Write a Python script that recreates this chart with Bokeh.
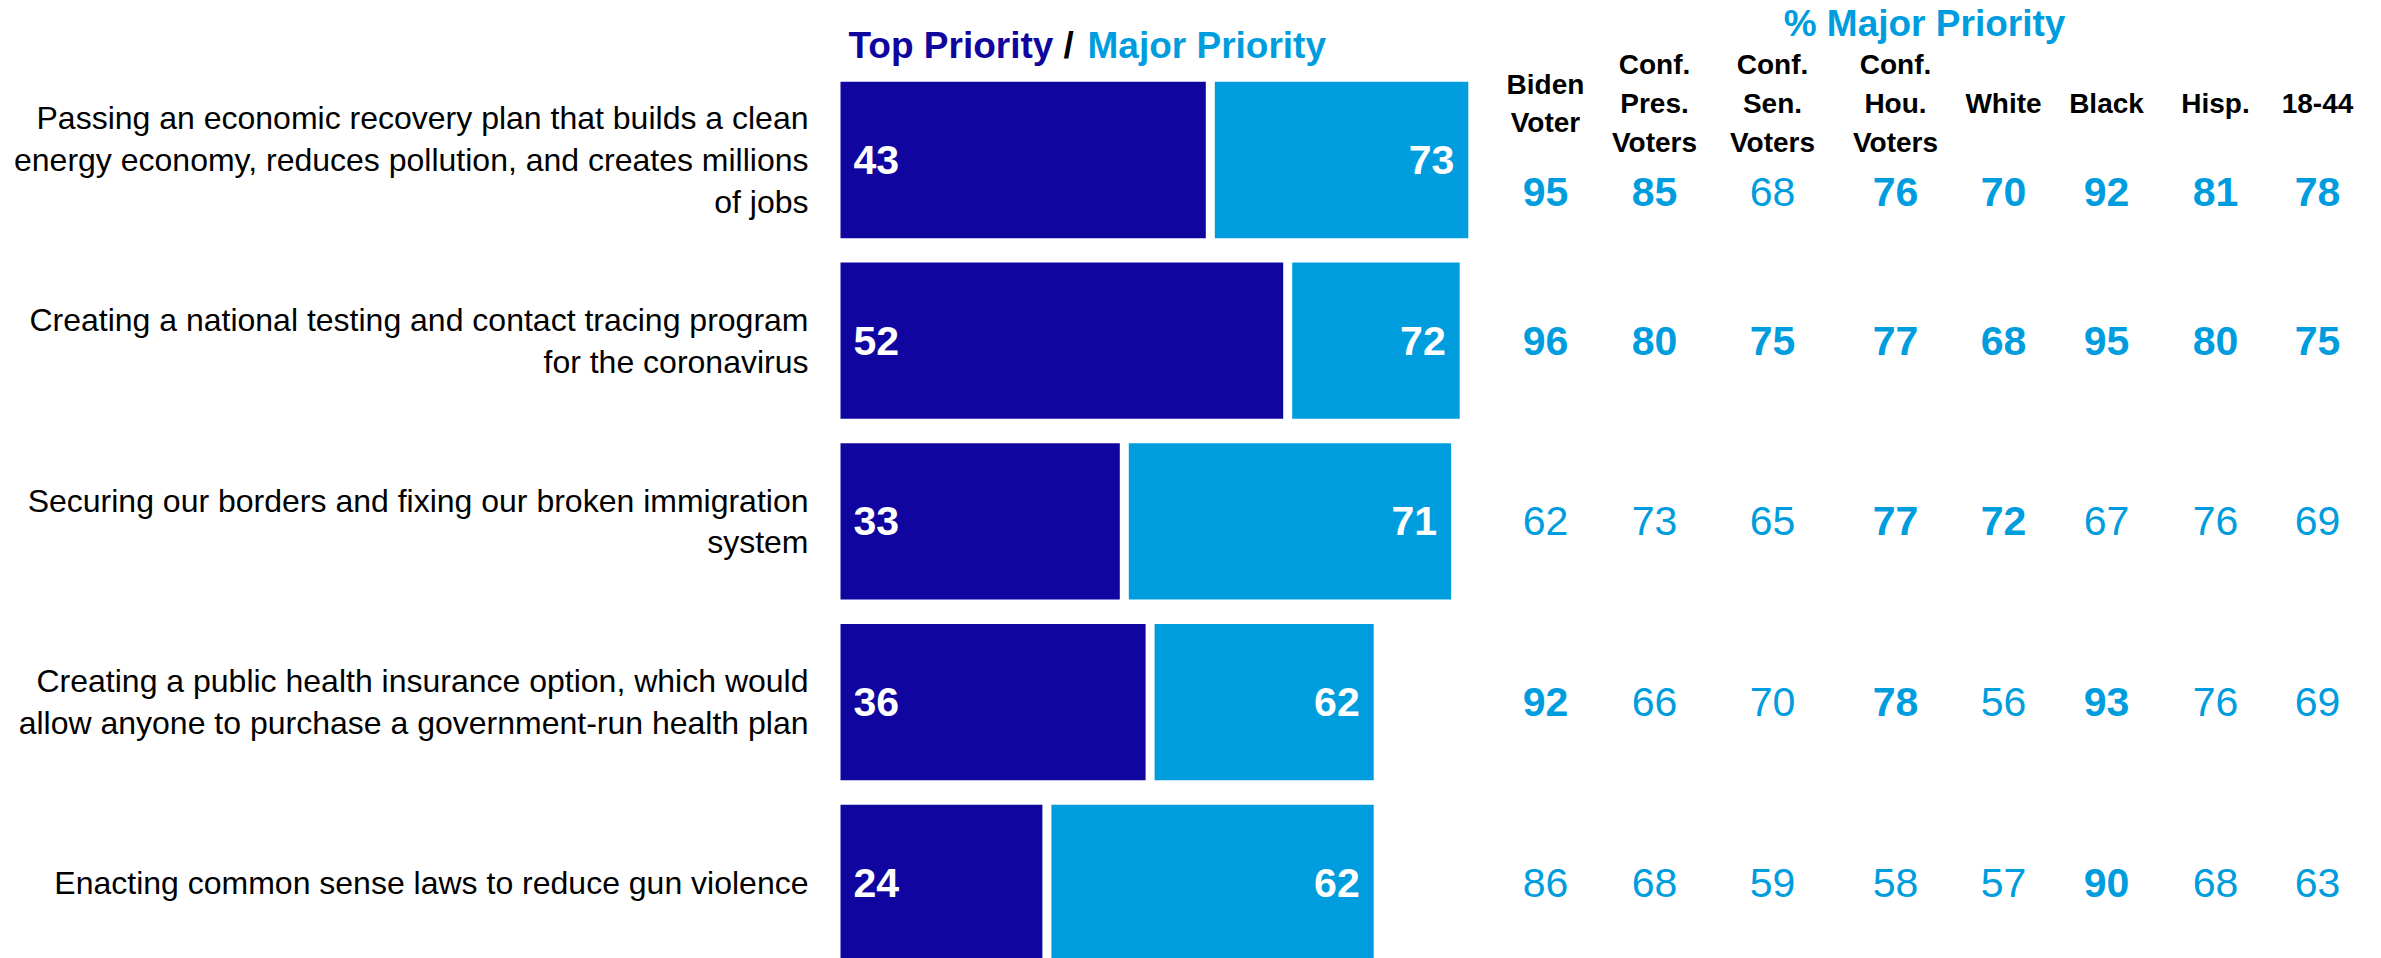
from bokeh.plotting import figure
from bokeh.models import Range1d
from bokeh.core.properties import value
from bokeh.embed import file_html
from bokeh.resources import INLINE

# ---------------- data ----------------
issues = [
    "Passing an economic recovery plan that builds a clean\nenergy economy, reduces pollution, and creates millions\nof jobs",
    "Creating a national testing and contact tracing program\nfor the coronavirus",
    "Securing our borders and fixing our broken immigration\nsystem",
    "Creating a public health insurance option, which would\nallow anyone to purchase a government-run health plan",
    "Enacting common sense laws to reduce gun violence",
]
top_priority = [43, 52, 33, 36, 24]
major_priority = [73, 72, 71, 62, 62]

groups = ["Biden\nVoter", "Conf.\nPres.\nVoters", "Conf.\nSen.\nVoters", "Conf.\nHou.\nVoters",
          "White", "Black", "Hisp.", "18-44"]
group_values = [
    [95, 85, 68, 76, 70, 92, 81, 78],
    [96, 80, 75, 77, 68, 95, 80, 75],
    [62, 73, 65, 77, 72, 67, 76, 69],
    [92, 66, 70, 78, 56, 93, 76, 69],
    [86, 68, 59, 58, 57, 90, 68, 63],
]
group_bold = [
    [1, 1, 0, 1, 1, 1, 1, 1],
    [1, 1, 1, 1, 1, 1, 1, 1],
    [0, 0, 0, 1, 1, 0, 0, 0],
    [1, 0, 0, 1, 0, 1, 0, 0],
    [0, 0, 0, 0, 0, 1, 0, 0],
]

# ---------------- layout / style ----------------
DARK = "#10069F"
LIGHT = "#009DDE"
FONT = value("Liberation Sans")
W, H = 2381, 958
M = 0                      # observed page offset
PX_PER_UNIT = 8.6          # bar scale
BAR_X0 = 840 - M           # px of value 0
ROW0 = 159.5 - M           # px of first bar centre
ROW_STEP = 180.7
col_x = [c - M for c in [1545, 1654, 1772, 1895, 2003, 2106, 2215, 2317]]

x_start = -BAR_X0 / PX_PER_UNIT
x_end = x_start + W / PX_PER_UNIT
y_top = -ROW0 / ROW_STEP
y_bot = y_top + H / ROW_STEP

p = figure(width=W, height=H, output_backend="svg", toolbar_location=None,
           x_range=Range1d(x_start, x_end), y_range=Range1d(y_bot, y_top),
           min_border=0, outline_line_color=None)
p.extra_x_ranges = {"px": Range1d(0, W)}
p.extra_y_ranges = {"py": Range1d(H, 0)}
p.xaxis.visible = False
p.yaxis.visible = False
p.grid.visible = False
p.background_fill_color = "white"
p.border_fill_color = "white"

rows = list(range(len(issues)))
BAR_H = 0.865

# bars
p.hbar(y=rows, left=0, right=top_priority, height=BAR_H, fill_color=DARK, line_color=None)
p.hbar(y=rows, left=top_priority, right=major_priority, height=BAR_H, fill_color=LIGHT, line_color=None)
p.segment(x0=top_priority, x1=top_priority, y0=[r - 0.5 for r in rows], y1=[r + 0.5 for r in rows],
          line_color="white", line_width=9)

# bar value labels
p.text(x=[0] * len(rows), y=rows, text=[str(v) for v in top_priority], x_offset=13,
       text_color="white", text_font=FONT, text_font_style="bold", text_font_size="41px",
       text_align="left", text_baseline="middle")
p.text(x=major_priority, y=rows, text=[str(v) for v in major_priority], x_offset=-14,
       text_color="white", text_font=FONT, text_font_style="bold", text_font_size="41px",
       text_align="right", text_baseline="middle")

# issue labels
p.text(x=[0] * len(rows), y=rows, text=issues, x_offset=-32,
       text_color="black", text_font=FONT, text_font_size="32px", text_line_height=1.16,
       text_align="right", text_baseline="middle")

# title over bars
p.text(x=[848 - M], y=[45 - M], text=["Top Priority"], x_range_name="px", y_range_name="py",
       text_color=DARK, text_font=FONT, text_font_style="bold", text_font_size="37px",
       text_align="left", text_baseline="middle")
p.text(x=[1063 - M], y=[45 - M], text=["/"], x_range_name="px", y_range_name="py",
       text_color="black", text_font=FONT, text_font_style="bold", text_font_size="37px",
       text_align="left", text_baseline="middle")
p.text(x=[1087 - M], y=[45 - M], text=["Major Priority"], x_range_name="px", y_range_name="py",
       text_color=LIGHT, text_font=FONT, text_font_style="bold", text_font_size="37px",
       text_align="left", text_baseline="middle")

# table title and headers
p.text(x=[1924 - M], y=[23 - M], text=["% Major Priority"], x_range_name="px", y_range_name="py",
       text_color=LIGHT, text_font=FONT, text_font_style="bold", text_font_size="37px",
       text_align="center", text_baseline="middle")
p.text(x=col_x, y=[103 - M] * len(col_x), text=groups, x_range_name="px", y_range_name="py",
       text_color="black", text_font=FONT, text_font_style="bold", text_font_size="28px",
       text_line_height=1.25, text_align="center", text_baseline="middle")

# table values
row_y = [r + (0.177 if r == 0 else 0.0) for r in rows]
bx, by, bt, nx, ny, nt = [], [], [], [], [], []
for r, (vals, bolds) in enumerate(zip(group_values, group_bold)):
    for c, (v, b) in enumerate(zip(vals, bolds)):
        if b:
            bx.append(col_x[c]); by.append(row_y[r]); bt.append(str(v))
        else:
            nx.append(col_x[c]); ny.append(row_y[r]); nt.append(str(v))
p.text(x=bx, y=by, text=bt, x_range_name="px", text_color=LIGHT, text_font=FONT,
       text_font_style="bold", text_font_size="41px", text_align="center", text_baseline="middle")
p.text(x=nx, y=ny, text=nt, x_range_name="px", text_color=LIGHT, text_font=FONT,
       text_font_style="normal", text_font_size="41px", text_align="center", text_baseline="middle")

open("out.html", "w").write(file_html(p, INLINE))
